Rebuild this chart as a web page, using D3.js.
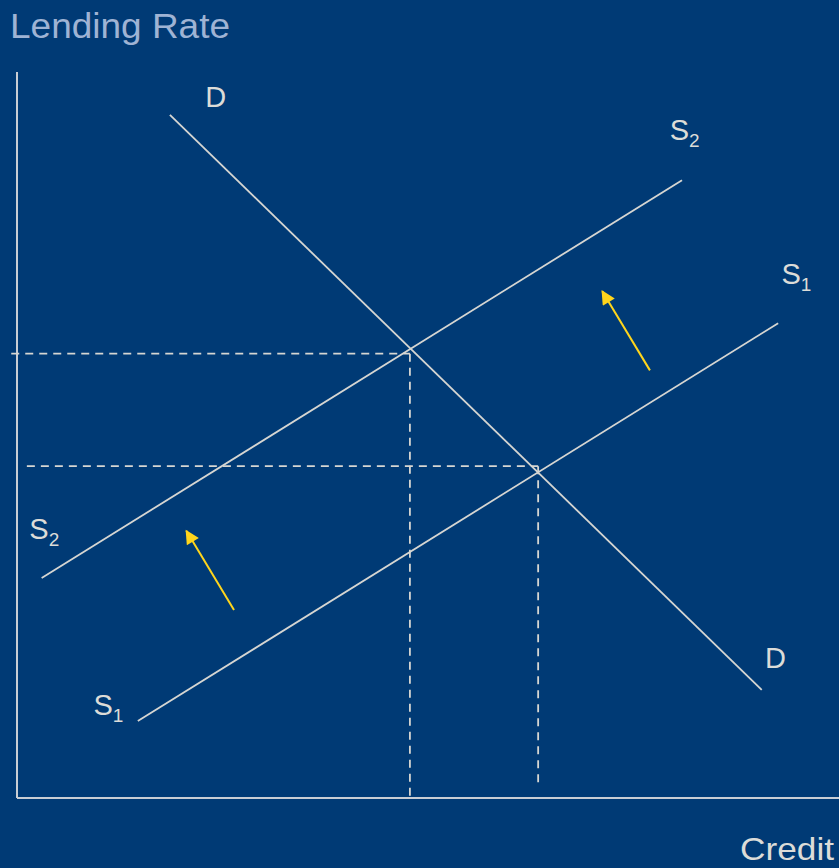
<!DOCTYPE html>
<html><head><meta charset="utf-8">
<script src="https://cdn.jsdelivr.net/npm/d3@7"></script>
<style>html,body{margin:0;padding:0;background:#003A75;}svg{display:block;}</style>
</head><body>
<script>
// Data (model coordinates: quantity of credit 0..10, lending rate 0..10)
const demand = [[1.86, 9.41], [9.06, 1.49]];
const supply2 = [[0.30, 3.03], [8.09, 8.51]];
const supply1 = [[1.47, 1.06], [9.26, 6.54]];
const equilibria = [
  {name: "E2", q: 4.78, r: 6.12, hStart: -0.07, vEnd: 0},
  {name: "E1", q: 6.34, r: 4.57, hStart: 0.12, vEnd: 0.18}
];
const shiftArrows = [
  {from: [2.64, 2.59], to: [2.06, 3.68]},
  {from: [7.70, 5.89], to: [7.12, 6.98]}
];
const curveLabels = [
  {text: "D", sub: "", q: 2.29, r: 9.52},
  {text: "D", sub: "", q: 9.10, r: 1.79},
  {text: "S", sub: "2", q: 7.94, r: 9.06},
  {text: "S", sub: "1", q: 9.30, r: 7.08},
  {text: "S", sub: "2", q: 0.15, r: 3.57},
  {text: "S", sub: "1", q: 0.93, r: 1.14}
];
const axisTitles = {y: "Lending Rate", x: "Credit"};

const W = 839, H = 868;
const x = d3.scaleLinear().domain([0, 10]).range([17, 839]);
const y = d3.scaleLinear().domain([0, 10]).range([798, 72]);

const svg = d3.select("body").append("svg").attr("width", W).attr("height", H);
svg.append("rect").attr("width", W).attr("height", H).attr("fill", "#003A75");

const lineCol = "#d6d6d2";
const font = "'Liberation Sans', Arial, sans-serif";

// axes
svg.append("line").attr("x1", x(0)).attr("x2", x(0)).attr("y1", y(10)).attr("y2", y(0))
  .attr("stroke", "#c8cdd4").attr("stroke-width", 2);
svg.append("line").attr("x1", x(0)).attr("x2", x(10)).attr("y1", y(0)).attr("y2", y(0))
  .attr("stroke", "#c8cdd4").attr("stroke-width", 2);

// dashed guides
const g = svg.append("g").attr("stroke", lineCol).attr("stroke-width", 1.8)
  .attr("stroke-dasharray", "8,6").attr("fill", "none");
equilibria.forEach(e => {
  g.append("line").attr("x1", x(e.hStart)).attr("x2", x(e.q)).attr("y1", y(e.r)).attr("y2", y(e.r));
  g.append("line").attr("x1", x(e.q)).attr("x2", x(e.q)).attr("y1", y(e.r)).attr("y2", y(e.vEnd));
});

// curves
const line = d3.line().x(d => x(d[0])).y(d => y(d[1]));
[demand, supply2, supply1].forEach(c => {
  svg.append("path").attr("d", line(c)).attr("stroke", lineCol).attr("stroke-width", 1.8).attr("fill", "none");
});

// arrows
const defs = svg.append("defs");
defs.append("marker").attr("id", "ah").attr("viewBox", "0 0 10 10").attr("refX", 9).attr("refY", 5)
  .attr("markerWidth", 8).attr("markerHeight", 7).attr("markerUnits", "strokeWidth").attr("orient", "auto")
  .append("path").attr("d", "M0,0 L10,5 L0,10 Z").attr("fill", "#FFD51C");
shiftArrows.forEach(a => {
  svg.append("line").attr("x1", x(a.from[0])).attr("y1", y(a.from[1]))
    .attr("x2", x(a.to[0])).attr("y2", y(a.to[1]))
    .attr("stroke", "#FFD51C").attr("stroke-width", 2).attr("marker-end", "url(#ah)");
});

// curve labels
curveLabels.forEach(l => {
  const t = svg.append("text").attr("x", x(l.q)).attr("y", y(l.r))
    .attr("fill", "#dcdcd8").attr("font-family", font).attr("font-size", 29);
  t.append("tspan").text(l.text);
  if (l.sub) t.append("tspan").attr("font-size", 19).attr("dy", 7).text(l.sub);
});

// axis titles
svg.append("text").attr("x", 10).attr("y", 38).attr("fill", "#9fb3d4").attr("font-family", font)
  .attr("font-size", 35).attr("textLength", 220).attr("lengthAdjust", "spacingAndGlyphs").text(axisTitles.y);
svg.append("text").attr("x", 740).attr("y", 860).attr("fill", "#dcdcd8").attr("font-family", font)
  .attr("font-size", 32).attr("textLength", 94).attr("lengthAdjust", "spacingAndGlyphs").text(axisTitles.x);
</script>
</body></html>
